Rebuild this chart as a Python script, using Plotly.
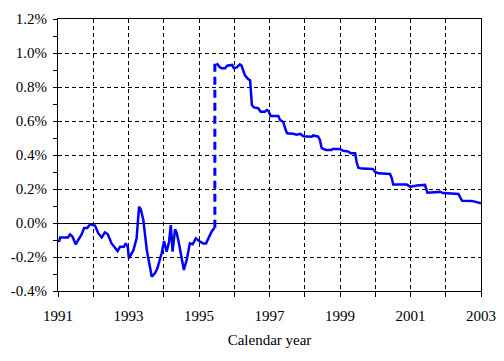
import plotly.graph_objects as go

# Segment before the break (years, percent)
years_a = [1991.00, 1991.03, 1991.06, 1991.28, 1991.34, 1991.41, 1991.50, 1991.60, 1991.67, 1991.74,
           1991.83, 1991.91, 1991.97, 1992.05, 1992.14, 1992.24, 1992.33, 1992.41, 1992.52, 1992.64,
           1992.69, 1992.76, 1992.87, 1992.92, 1992.98, 1993.01, 1993.14, 1993.23, 1993.30, 1993.35,
           1993.42, 1993.52, 1993.66, 1993.75, 1993.82, 1993.94, 1994.01, 1994.08, 1994.15, 1994.20,
           1994.25, 1994.32, 1994.37, 1994.44, 1994.51, 1994.57, 1994.65, 1994.74, 1994.82, 1994.91,
           1995.03, 1995.12, 1995.20, 1995.29, 1995.36, 1995.44]
values_a = [-0.100, -0.110, -0.086, -0.086, -0.067, -0.080, -0.125, -0.086, -0.067, -0.030,
            -0.030, -0.008, -0.010, -0.015, -0.060, -0.085, -0.055, -0.065, -0.120, -0.153,
            -0.165, -0.140, -0.140, -0.120, -0.140, -0.208, -0.160, -0.090, 0.096, 0.080,
            0.018, -0.160, -0.316, -0.296, -0.267, -0.178, -0.106, -0.169, -0.110, -0.012,
            -0.169, -0.037, -0.060, -0.130, -0.198, -0.276, -0.218, -0.120, -0.125, -0.090,
            -0.110, -0.120, -0.120, -0.080, -0.050, -0.028]

# Break connector
years_break = [1995.45, 1995.45]
values_break = [-0.028, 0.940]

# Segment after the break
years_b = [1995.50, 1995.57, 1995.64, 1995.74, 1995.80, 1995.90, 1995.94, 1995.99, 1996.07, 1996.16,
           1996.21, 1996.30, 1996.40, 1996.45, 1996.47, 1996.50, 1996.56, 1996.68, 1996.75, 1996.87,
           1996.92, 1996.97, 1997.03, 1997.25, 1997.30, 1997.39, 1997.46, 1997.50, 1997.67, 1997.77,
           1997.87, 1997.96, 1998.20, 1998.24, 1998.38, 1998.43, 1998.48, 1998.60, 1998.76, 1998.79,
           1999.00, 1999.09, 1999.24, 1999.30, 1999.43, 1999.47, 1999.52, 1999.62, 1999.93, 2000.00,
           2000.09, 2000.42, 2000.47, 2000.51, 2000.89, 2000.99, 2001.18, 2001.36, 2001.41, 2001.48,
           2001.65, 2001.84, 2001.93, 2002.21, 2002.36, 2002.45, 2002.47, 2002.74, 2002.83, 2003.00]
values_b = [0.940, 0.920, 0.910, 0.910, 0.925, 0.930, 0.930, 0.910, 0.915, 0.933,
            0.925, 0.870, 0.845, 0.840, 0.780, 0.694, 0.680, 0.675, 0.655, 0.655,
            0.665, 0.660, 0.630, 0.630, 0.606, 0.595, 0.547, 0.528, 0.525, 0.520,
            0.525, 0.510, 0.508, 0.515, 0.508, 0.488, 0.440, 0.430, 0.430, 0.435,
            0.435, 0.425, 0.420, 0.410, 0.410, 0.360, 0.325, 0.320, 0.318, 0.300,
            0.292, 0.288, 0.263, 0.226, 0.226, 0.214, 0.220, 0.224, 0.224, 0.178,
            0.180, 0.183, 0.176, 0.175, 0.171, 0.135, 0.131, 0.130, 0.126, 0.116]

x_tick_vals = [1991, 1993, 1995, 1997, 1999, 2001, 2003]
x_tick_text = ["1991", "1993", "1995", "1997", "1999", "2001", "2003"]
y_tick_vals = [-0.4, -0.2, 0.0, 0.2, 0.4, 0.6, 0.8, 1.0, 1.2]
y_tick_text = ["-0.4%", "-0.2%", "0.0%", "0.2%", "0.4%", "0.6%", "0.8%", "1.0%", "1.2%"]

BLUE = "#0000FF"
FONT = "Liberation Serif"
FS = 15

fig = go.Figure()
fig.add_trace(go.Scatter(x=years_a, y=values_a, mode="lines",
                         line=dict(color=BLUE, width=2.5), showlegend=False))
fig.add_trace(go.Scatter(x=years_break, y=values_break, mode="lines",
                         line=dict(color=BLUE, width=3, dash="8px,5px"), showlegend=False))
fig.add_trace(go.Scatter(x=years_b, y=values_b, mode="lines",
                         line=dict(color=BLUE, width=2.5), showlegend=False))

fig.update_layout(
    width=496, height=353,
    margin=dict(l=50, r=23, t=11, b=70),
    paper_bgcolor="white", plot_bgcolor="white",
    font=dict(family=FONT, size=FS, color="black"),
    xaxis=dict(
        range=[1991, 2003], tickmode="array", tickvals=x_tick_vals, ticktext=x_tick_text,
        showgrid=True, gridcolor="black", griddash="4px,3px", gridwidth=1,
        ticks="outside", ticklen=5, tickcolor="black", ticklabelstandoff=6,
        minor=dict(dtick=1, tick0=1991, ticks="outside", ticklen=5, tickcolor="black",
                   showgrid=True, gridcolor="black", griddash="4px,3px", gridwidth=1),
        showline=True, linecolor="black", linewidth=1, mirror=True,
        zeroline=False, automargin=False,
        title=dict(text="Calendar year", font=dict(family=FONT, size=FS), standoff=11),
        tickfont=dict(family=FONT, size=FS),
    ),
    yaxis=dict(
        range=[-0.4, 1.2], tickmode="array", tickvals=y_tick_vals, ticktext=y_tick_text,
        showgrid=True, gridcolor="black", griddash="4px,3px", gridwidth=1,
        ticks="outside", ticklen=4, tickcolor="black", ticklabelstandoff=3,
        minor=dict(dtick=0.1, tick0=0, ticks="outside", ticklen=4, tickcolor="black", showgrid=False),
        showline=True, linecolor="black", linewidth=1, mirror=True,
        zeroline=True, zerolinecolor="black", zerolinewidth=1, automargin=False,
        tickfont=dict(family=FONT, size=FS),
    ),
)

fig.write_html("out.html")
